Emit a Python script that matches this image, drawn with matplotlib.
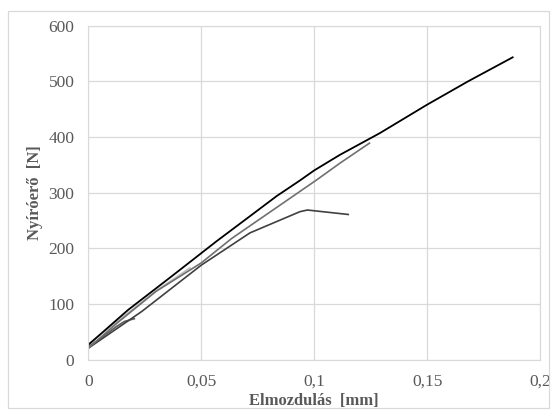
import matplotlib.pyplot as plt
from matplotlib.patches import Rectangle

# minták: elmozdulás [mm] - nyíróerő [N]
x_1 = [0, 0.0177, 0.0369, 0.0568, 0.0716, 0.0834, 0.0937, 0.1, 0.1114, 0.1291, 0.15, 0.1682, 0.1879]
y_1 = [27, 90, 150, 213, 258, 294, 322, 340, 368, 407, 458, 500, 543]

x_2 = [0, 0.0127, 0.03, 0.05, 0.0635, 0.1011, 0.1114, 0.1245]
y_2 = [21, 66, 123, 174, 218, 323, 353, 389]

x_3 = [0, 0.0237, 0.05, 0.0716, 0.0937, 0.097, 0.1151]
y_3 = [21, 87, 170, 228, 266, 269, 261]

x_4 = [0, 0.0125, 0.016, 0.0204]
y_4 = [23, 60, 69, 74]

x_5 = [0, 0.015, 0.03, 0.045]
y_5 = [28, 76, 124, 165]

plt.rcParams['font.family'] = ['Liberation Serif', 'DejaVu Serif']

fig = plt.figure(figsize=(5.57, 4.19), dpi=100)
ax = fig.add_axes([0.1585, 0.141, 0.811, 0.798])

ax.plot(x_5, y_5, color='#bfbfbf', lw=1.2)
ax.plot(x_4, y_4, color='#595959', lw=1.2)
ax.plot(x_3, y_3, color='#404040', lw=1.2)
ax.plot(x_2, y_2, color='#707070', lw=1.2)
ax.plot(x_1, y_1, color='black', lw=1.3)

ax.set_xlim(0, 0.2)
ax.set_ylim(0, 600)
ax.set_xticks([0, 0.05, 0.1, 0.15, 0.2])
ax.set_xticklabels(['0', '0,05', '0,1', '0,15', '0,2'])
ax.set_yticks(range(0, 601, 100))
ax.grid(True, color='#d9d9d9', lw=0.9)
ax.set_axisbelow(True)
for s in ax.spines.values():
    s.set_color('#d9d9d9')
ax.tick_params(length=0, pad=10, labelsize=12.5, colors='#595959')

ax.set_xlabel('Elmozdulás  [mm]', fontsize=12, fontweight='bold', color='#595959', labelpad=2)
ax.set_ylabel('Nyíróerő  [N]', fontsize=12, fontweight='bold', color='#595959', labelpad=4)

fig.patches.append(Rectangle((0.0145, 0.026), 0.971, 0.948, transform=fig.transFigure,
                             fill=False, edgecolor='#d9d9d9', lw=0.9))

fig.savefig('out.png', dpi=100)
